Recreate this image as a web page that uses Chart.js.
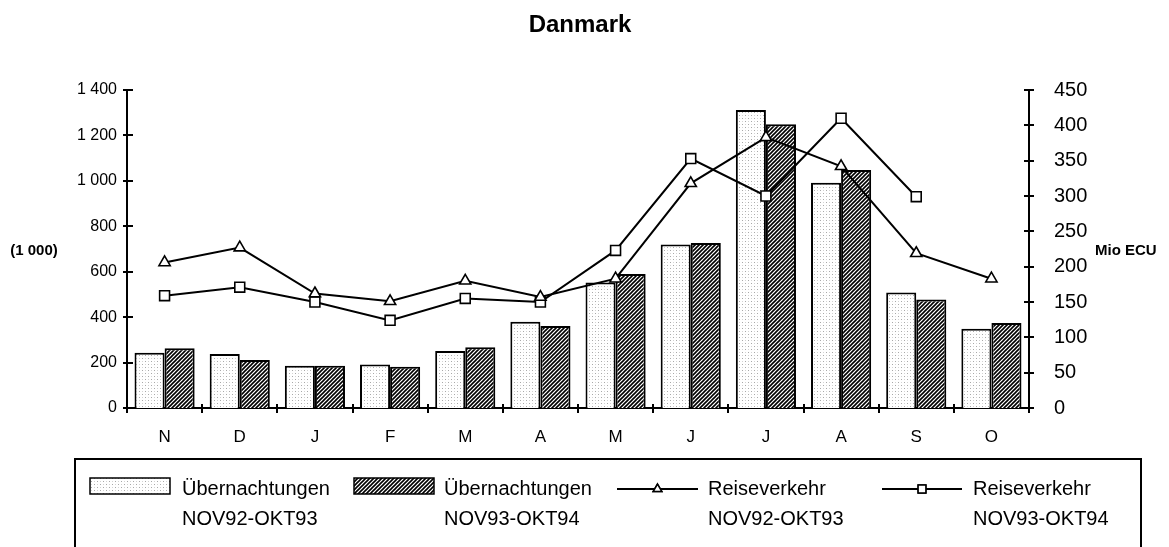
<!DOCTYPE html>
<html>
<head>
<meta charset="utf-8">
<title>Danmark</title>
<script src="https://cdn.jsdelivr.net/npm/chart.js@4/dist/chart.umd.min.js"></script>
<style>
  html, body { margin: 0; padding: 0; background: #fff; }
  #wrap { width: 1169px; height: 547px; position: relative; }
</style>
</head>
<body>
<div id="wrap"><canvas id="chart" width="1169" height="547"></canvas></div>
<script>
// Months Nov .. Oct
const months = ['N', 'D', 'J', 'F', 'M', 'A', 'M', 'J', 'J', 'A', 'S', 'O'];

// Overnight stays (1 000), left axis
const stays9293 = [243, 238, 186, 192, 251, 380, 553, 720, 1312, 992, 508, 349];
const stays9394 = [263, 211, 186, 182, 267, 361, 590, 726, 1249, 1048, 478, 374];

// Travel receipts (Mio ECU), right axis
const travel9293 = [206, 227, 162, 151, 180, 157, 183, 318, 383, 342, 219, 183];
const travel9394 = [159, 171, 150, 124, 155, 150, 223, 353, 300, 410, 299, null];

const leftTicks = { min: 0, max: 1400, step: 200 };
const rightTicks = { min: 0, max: 450, step: 50 };

const seriesNames = [
  ['Übernachtungen', 'NOV92-OKT93'],
  ['Übernachtungen', 'NOV93-OKT94'],
  ['Reiseverkehr', 'NOV92-OKT93'],
  ['Reiseverkehr', 'NOV93-OKT94']
];

const FONT = '"Liberation Sans", Arial, Helvetica, sans-serif';

// Fill patterns: light stipple and dense diagonal hatch
function stipplePattern() {
  const c = document.createElement('canvas');
  c.width = 6; c.height = 6;
  const g = c.getContext('2d');
  g.fillStyle = '#ffffff';
  g.fillRect(0, 0, 6, 6);
  g.fillStyle = '#a8a8a8';
  g.fillRect(1, 1, 1, 1);
  g.fillRect(4, 4, 1, 1);
  g.fillStyle = '#d4d4d4';
  g.fillRect(4, 1, 1, 1);
  g.fillRect(1, 4, 1, 1);
  return g.createPattern(c, 'repeat');
}
function hatchPattern() {
  const s = 4;
  const c = document.createElement('canvas');
  c.width = s; c.height = s;
  const g = c.getContext('2d');
  g.fillStyle = '#ffffff';
  g.fillRect(0, 0, s, s);
  g.strokeStyle = '#000000';
  g.lineWidth = 1.6;
  g.beginPath();
  g.moveTo(-1, s + 1); g.lineTo(s + 1, -1);
  g.moveTo(-1, 1); g.lineTo(1, -1);
  g.moveTo(s - 1, s + 1); g.lineTo(s + 1, s - 1);
  g.stroke();
  return g.createPattern(c, 'repeat');
}
const stipple = stipplePattern();
const hatch = hatchPattern();

function spaced(v) {
  return String(v).replace(/\B(?=(\d{3})+(?!\d))/g, ' ');
}

// Axis tick marks crossing the axis lines, plus title, unit labels and legend box
const decorations = {
  id: 'decorations',
  afterDraw(chart) {
    const ctx = chart.ctx;
    const area = chart.chartArea;
    const x = chart.scales.x, y = chart.scales.y, y1 = chart.scales.y1;
    ctx.save();
    ctx.strokeStyle = '#000';
    ctx.lineWidth = 2;
    ctx.beginPath();
    y.ticks.forEach(t => {
      const py = Math.round(y.getPixelForValue(t.value));
      ctx.moveTo(area.left - 4, py); ctx.lineTo(area.left + 6, py);
    });
    y1.ticks.forEach(t => {
      const py = Math.round(y1.getPixelForValue(t.value));
      ctx.moveTo(area.right - 5, py); ctx.lineTo(area.right + 5, py);
    });
    const n = months.length;
    const cw = (x.right - x.left) / n;
    for (let i = 0; i <= n; i++) {
      const px = Math.round(x.left + i * cw);
      ctx.moveTo(px, area.bottom - 4); ctx.lineTo(px, area.bottom + 5);
    }
    ctx.stroke();

    // Title
    ctx.fillStyle = '#000';
    ctx.textBaseline = 'middle';
    ctx.textAlign = 'center';
    ctx.font = 'bold 24px ' + FONT;
    ctx.fillText('Danmark', 580, 25);

    // Unit labels
    ctx.font = 'bold 15px ' + FONT;
    ctx.fillText('(1 000)', 34, 251);
    ctx.textAlign = 'left';
    ctx.fillText('Mio ECU', 1095, 251);

    // Legend frame
    ctx.lineWidth = 2;
    ctx.strokeRect(75, 459, 1066, 110);

    // Legend entries
    const row1 = 489, row2 = 519;
    ctx.font = '20px ' + FONT;
    ctx.textAlign = 'left';
    const entries = [
      { kind: 'bar', fill: stipple, x0: 90, x1: 170, tx: 182 },
      { kind: 'bar', fill: hatch, x0: 354, x1: 434, tx: 444 },
      { kind: 'line', style: 'triangle', x0: 617, x1: 698, tx: 708 },
      { kind: 'line', style: 'rect', x0: 882, x1: 962, tx: 973 }
    ];
    entries.forEach((e, i) => {
      if (e.kind === 'bar') {
        ctx.fillStyle = e.fill;
        ctx.fillRect(e.x0, 478, e.x1 - e.x0, 16);
        ctx.lineWidth = 1.5;
        ctx.strokeStyle = '#000';
        ctx.strokeRect(e.x0, 478, e.x1 - e.x0, 16);
      } else {
        ctx.lineWidth = 2;
        ctx.strokeStyle = '#000';
        ctx.beginPath();
        ctx.moveTo(e.x0, row1); ctx.lineTo(e.x1, row1);
        ctx.stroke();
        ctx.lineWidth = 1.5;
        Chart.helpers.drawPoint(ctx, {
          pointStyle: e.style, radius: e.style === 'rect' ? 5.5 : 5, rotation: 0, borderWidth: 1.5
        }, (e.x0 + e.x1) / 2, row1);
        ctx.fillStyle = '#fff';
        ctx.fill();
        ctx.stroke();
      }
      ctx.fillStyle = '#000';
      ctx.fillText(seriesNames[i][0], e.tx, row1);
      ctx.fillText(seriesNames[i][1], e.tx, row2);
    });
    ctx.restore();
  }
};

new Chart(document.getElementById('chart'), {
  type: 'bar',
  data: {
    labels: months,
    datasets: [
      {
        label: seriesNames[2].join(' '), type: 'line', data: travel9293, yAxisID: 'y1', order: 0,
        borderColor: '#000', borderWidth: 2, tension: 0,
        pointStyle: 'triangle', pointRadius: 6.5, pointBackgroundColor: '#fff',
        pointBorderColor: '#000', pointBorderWidth: 1.6
      },
      {
        label: seriesNames[3].join(' '), type: 'line', data: travel9394, yAxisID: 'y1', order: 0,
        borderColor: '#000', borderWidth: 2, tension: 0, spanGaps: false,
        pointStyle: 'rect', pointRadius: 7, pointBackgroundColor: '#fff',
        pointBorderColor: '#000', pointBorderWidth: 1.6
      },
      {
        label: seriesNames[0].join(' '), data: stays9293, yAxisID: 'y', order: 1,
        backgroundColor: stipple, borderColor: '#000', borderWidth: 2,
        categoryPercentage: 0.8, barPercentage: 1.0
      },
      {
        label: seriesNames[1].join(' '), data: stays9394, yAxisID: 'y', order: 1,
        backgroundColor: hatch, borderColor: '#000', borderWidth: 2,
        categoryPercentage: 0.8, barPercentage: 1.0
      }
    ]
  },
  options: {
    responsive: false,
    animation: false,
    events: [],
    layout: { padding: { top: 90, bottom: 89, left: 0, right: 0 } },
    plugins: {
      legend: { display: false },
      title: { display: false },
      tooltip: { enabled: false }
    },
    scales: {
      x: {
        offset: true,
        grid: { display: false, drawTicks: false },
        border: { display: true, color: '#000', width: 2 },
        ticks: { color: '#000', font: { family: FONT, size: 17 }, padding: 19, maxRotation: 0, autoSkip: false },
        afterFit(s) { s.height = 50; }
      },
      y: {
        position: 'left',
        min: leftTicks.min, max: leftTicks.max,
        grid: { display: false, drawTicks: false },
        border: { display: true, color: '#000', width: 2 },
        ticks: {
          stepSize: leftTicks.step, color: '#000', padding: 10,
          font: { family: FONT, size: 16 },
          callback: v => spaced(v)
        },
        afterFit(s) { s.width = 127; }
      },
      y1: {
        position: 'right',
        min: rightTicks.min, max: rightTicks.max,
        grid: { display: false, drawTicks: false },
        border: { display: true, color: '#000', width: 2 },
        ticks: {
          stepSize: rightTicks.step, color: '#000', padding: 25,
          font: { family: FONT, size: 20 }
        },
        afterFit(s) { s.width = 140; }
      }
    }
  },
  plugins: [decorations]
});
</script>
</body>
</html>
